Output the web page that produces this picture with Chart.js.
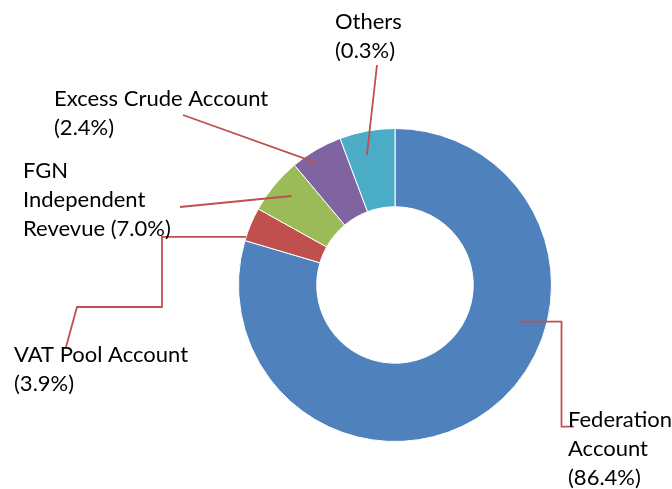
<!DOCTYPE html>
<html>
<head>
<meta charset="utf-8">
<script src="https://cdn.jsdelivr.net/npm/chart.js@4.4.1/dist/chart.umd.min.js"></script>
<style>
  html, body { margin: 0; padding: 0; background: #ffffff; }
  #wrap { width: 672px; height: 489px; position: relative; }
</style>
</head>
<body>
<div id="wrap"><canvas id="c" width="672" height="489"></canvas></div>
<script>
// ---- data ----
const categories = ["Federation Account", "VAT Pool Account", "FGN Independent Revevue", "Excess Crude Account", "Others"];
// slice sizes as drawn in the picture (share of the ring, %)
const sliceValues = [79.5, 3.5, 5.8, 5.4, 5.7];
// percentages printed in the labels
const labelPercents = ["86.4%", "3.9%", "7.0%", "2.4%", "0.3%"];
// how each label's text is broken into lines
const labelLines = [
  ["Federation", "Account", "(" + labelPercents[0] + ")"],
  ["VAT Pool Account", "(" + labelPercents[1] + ")"],
  ["FGN", "Independent", "Revevue (" + labelPercents[2] + ")"],
  ["Excess Crude Account", "(" + labelPercents[3] + ")"],
  ["Others", "(" + labelPercents[4] + ")"]
];
const colors = ["#4F81BD", "#C0504D", "#9BBB59", "#8064A2", "#4BACC6"];

// ---- label layout (pixels / geometry, not data) ----
const labelLayout = [
  { x: 568, y: 427, anchorDeg: 106.5, anchorR: 0.824, path: (a) => [[a.x, a.y], [561.5, a.y], [561.5, 426.7], [574, 426.7]] },
  { x: 14,  y: 362, anchorDeg: 287.9, anchorR: 1.0,   path: (a) => [[66, 347], [77, 307], [162, 307], [162, a.y], [a.x, a.y]] },
  { x: 23,  y: 178, anchorDeg: 310.7, anchorR: 0.872, path: (a) => [[180, 207], [a.x, a.y]] },
  { x: 54,  y: 106, anchorDeg: 327.7, anchorR: 0.92,  path: (a) => [[183, 115], [a.x, a.y]] },
  { x: 335, y: 29,  anchorDeg: 347.8, anchorR: 0.85,  path: (a) => [[377, 65], [a.x, a.y]] }
];
const LINE_H = 28.8;
const FONT = '22px Lato';

const labelPlugin = {
  id: 'leaderLabels',
  afterDatasetsDraw(chart) {
    const ctx = chart.ctx;
    const meta = chart.getDatasetMeta(0);
    const arc0 = meta.data[0];
    const cx = arc0.x, cy = arc0.y, R = arc0.outerRadius;
    ctx.save();
    ctx.strokeStyle = '#C0504D';
    ctx.lineWidth = 1.8;
    ctx.lineJoin = 'miter';
    labelLayout.forEach((L, i) => {
      const th = L.anchorDeg * Math.PI / 180;
      const a = { x: cx + R * L.anchorR * Math.sin(th), y: cy - R * L.anchorR * Math.cos(th) };
      const pts = L.path(a);
      ctx.beginPath();
      ctx.moveTo(pts[0][0], pts[0][1]);
      for (let k = 1; k < pts.length; k++) ctx.lineTo(pts[k][0], pts[k][1]);
      ctx.stroke();
    });
    ctx.fillStyle = '#000000';
    ctx.font = FONT;
    ctx.textAlign = 'left';
    ctx.textBaseline = 'alphabetic';
    labelLayout.forEach((L, i) => {
      labelLines[i].forEach((t, k) => ctx.fillText(t, L.x, L.y + k * LINE_H));
    });
    ctx.restore();
  }
};

new Chart(document.getElementById('c'), {
  type: 'doughnut',
  data: {
    labels: categories,
    datasets: [{
      data: sliceValues,
      backgroundColor: colors,
      borderColor: '#ffffff',
      borderWidth: 1,
      hoverOffset: 0
    }]
  },
  options: {
    responsive: false,
    animation: false,
    cutout: '50%',
    rotation: 0,
    layout: { padding: { left: 238, right: 120, top: 128, bottom: 47 } },
    plugins: { legend: { display: false }, tooltip: { enabled: false } }
  },
  plugins: [labelPlugin]
});
</script>
</body>
</html>
